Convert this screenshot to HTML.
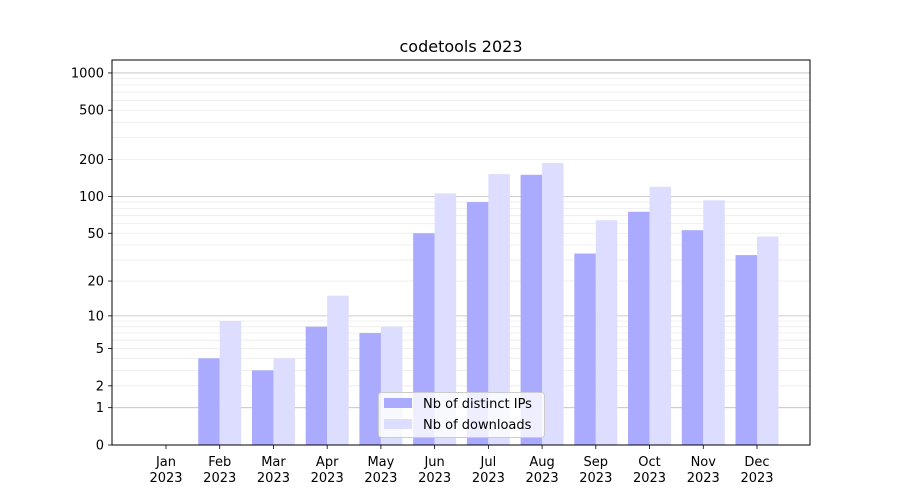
<!DOCTYPE html>
<html><head><meta charset="utf-8"><style>
body{margin:0;background:#fff}
svg{display:block;font-family:"DejaVu Sans","Liberation Sans",sans-serif}
</style></head><body>
<svg id="c" width="900" height="500" xmlns="http://www.w3.org/2000/svg"></svg>
<script>
const s=document.getElementById('c');
const Y=v=>445-124*Math.log10(1+v);
let h='<rect width="900" height="500" fill="#fff"/>';
const minors=[];
for(const d of [1,10,100,1000])for(let k=2;k<=9;k++){const v=d*k;if(Y(v)>60)minors.push(v);}
for(const v of minors)h+=`<line x1="112" x2="810" y1="${Y(v)}" y2="${Y(v)}" stroke="#ebebeb" stroke-width="0.8"/>`;
for(const v of [1,10,100,1000])h+=`<line x1="112" x2="810" y1="${Y(v)}" y2="${Y(v)}" stroke="#bdbdbd" stroke-width="0.8"/>`;
const ip=[0,4,3,8,7,50,90,150,34,75,53,33];
const dl=[0,9,4,15,8,106,152,187,64,120,93,47];
const m=['Jan','Feb','Mar','Apr','May','Jun','Jul','Aug','Sep','Oct','Nov','Dec'];
const step=(757-166)/11,w=step*0.4;
for(let i=0;i<12;i++){
 const c=166+i*step;
 if(ip[i]>0)h+=`<rect x="${c-w}" y="${Y(ip[i])}" width="${w}" height="${445-Y(ip[i])}" fill="#aaaaff"/>`;
 if(dl[i]>0)h+=`<rect x="${c}" y="${Y(dl[i])}" width="${w}" height="${445-Y(dl[i])}" fill="#ddddff"/>`;
 h+=`<line x1="${c}" x2="${c}" y1="445" y2="449" stroke="#000" stroke-width="0.8"/>`;
 h+=`<text x="${c}" y="466" font-size="13" text-anchor="middle">${m[i]}</text><text x="${c}" y="482" font-size="13" text-anchor="middle">2023</text>`;
}
for(const v of [0,1,2,5,10,20,50,100,200,500,1000]){
 const y=Y(v);
 h+=`<line x1="108" x2="112" y1="${y}" y2="${y}" stroke="#000" stroke-width="0.8"/>`;
 h+=`<text x="104" y="${y+4.5}" font-size="13" text-anchor="end">${v}</text>`;
}
h+='<rect x="112" y="60" width="698" height="385" fill="none" stroke="#000" stroke-width="1"/>';
h+='<text x="461" y="52" font-size="16" text-anchor="middle">codetools 2023</text>';
h+='<rect x="378.5" y="392.5" width="166" height="45" rx="3" fill="#fff" fill-opacity="0.8" stroke="#ccc"/>';
h+='<rect x="384" y="398" width="28" height="10" fill="#aaaaff"/><text x="423" y="408" font-size="13">Nb of distinct IPs</text>';
h+='<rect x="384" y="419" width="28" height="10" fill="#ddddff"/><text x="423" y="429" font-size="13">Nb of downloads</text>';
s.innerHTML=h;
</script>
</body></html>
